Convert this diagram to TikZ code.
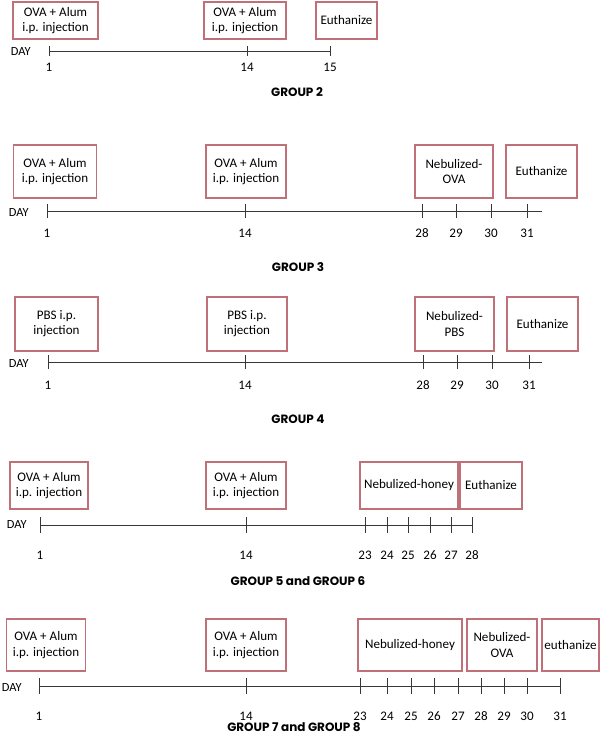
\documentclass[tikz,border=0pt]{standalone}
\usepackage{fontspec}
\setmainfont{Carlito}
\newfontfamily\grpfont{Poppins}
\definecolor{boxred}{RGB}{192,112,120}
\definecolor{axisgray}{RGB}{55,55,55}
\tikzset{
  evbox/.style 2 args={draw=boxred, line width=0.8pt, fill=white, align=center, inner sep=1pt,
    minimum width=#1*0.75pt, minimum height=#2*0.75pt,
    font=\fontsize{9.8}{11.4}\selectfont},
  axisline/.style={draw=axisgray, line width=0.75pt},
  daynum/.style={inner sep=0.75pt, font=\fontsize{9.8}{11.4}\selectfont},
  daylbl/.style={anchor=east, inner sep=0.75pt, font=\fontsize{9.3}{11}\selectfont},
  grplbl/.style={inner sep=0.75pt, font=\grpfont\bfseries\fontsize{9}{11}\selectfont}
}
\begin{document}
\begin{tikzpicture}[x=0.75pt,y=0.75pt,yscale=-1,xscale=1]
\useasboundingbox (0,0) rectangle (600,736);

%Group 2
\node[evbox={85}{37}] (g2a) at (55.5,20.5) {OVA + Alum\\i.p. injection};
\node[evbox={82}{37}] (g2b) at (245,20.5) {OVA + Alum\\i.p. injection};
\node[evbox={61}{37}] (g2c) at (346.5,20.5) {Euthanize};
\coordinate (g2s) at (49,51);
\coordinate (g2e) at (330,51);
\draw[axisline] (g2s) -- (g2e);
\foreach \x/\d in {49/1,247/14,330/15} {
  \draw[axisline] (\x,46) -- (\x,56);
  \node[daynum] (g2d\d) at (\x,67) {\d};
}
\node[daylbl] (g2day) at (32,52) {DAY};
\node[grplbl] (g2lbl) at (297,92) {GROUP 2};

%Group 3
\node[evbox={83}{53}] (g3a) at (55,171.5) {OVA + Alum\\i.p. injection};
\node[evbox={80}{53}] (g3b) at (246,171.5) {OVA + Alum\\i.p. injection};
\node[evbox={78}{53}] (g3c) at (454,171.5) {Nebulized-\\OVA};
\node[evbox={71}{53}] (g3d) at (541.5,171.5) {Euthanize};
\coordinate (g3s) at (47,211);
\coordinate (g3e) at (542,211);
\draw[axisline] (g3s) -- (g3e);
\foreach \x/\d in {47/1,245/14,422/28,456/29,491/30,527/31} {
  \draw[axisline] (\x,204) -- (\x,218);
  \node[daynum] (g3d\d) at (\x,233) {\d};
}
\node[daylbl] (g3day) at (30,213) {DAY};
\node[grplbl] (g3lbl) at (298,267) {GROUP 3};

%Group 4
\node[evbox={83}{54}] (g4a) at (56.5,324) {PBS i.p.\\injection};
\node[evbox={80}{54}] (g4b) at (247,324) {PBS i.p.\\injection};
\node[evbox={79}{54}] (g4c) at (454.5,324) {Nebulized-\\PBS};
\node[evbox={71}{54}] (g4d) at (542.5,324) {Euthanize};
\coordinate (g4s) at (48,362);
\coordinate (g4e) at (542,362);
\draw[axisline] (g4s) -- (g4e);
\foreach \x/\d in {48/1,245/14,423/28,457/29,492/30,529/31} {
  \draw[axisline] (\x,355) -- (\x,369);
  \node[daynum] (g4d\d) at (\x,385) {\d};
}
\node[daylbl] (g4day) at (30,364) {DAY};
\node[grplbl] (g4lbl) at (298,419) {GROUP 4};

%Group 5 and 6
\node[evbox={78}{47}] (g5a) at (49,485.5) {OVA + Alum\\i.p. injection};
\node[evbox={80}{47}] (g5b) at (246,485.5) {OVA + Alum\\i.p. injection};
\node[evbox={98}{47}] (g5c) at (409,485.5) {Nebulized-honey};
\node[evbox={62}{47}] (g5d) at (491,485.5) {Euthanize};
\coordinate (g5s) at (40,525);
\coordinate (g5e) at (472,525);
\draw[axisline] (g5s) -- (g5e);
\foreach \x/\d in {40/1,246/14,365/23,387/24,408/25,430/26,451/27,472/28} {
  \draw[axisline] (\x,517) -- (\x,533);
  \node[daynum] (g5d\d) at (\x,555) {\d};
}
\node[daylbl] (g5day) at (28,525) {DAY};
\node[grplbl] (g5lbl) at (298,581) {GROUP 5 and GROUP 6};

%Group 7 and 8
\node[evbox={79}{52}] (g7a) at (46,645) {OVA + Alum\\i.p. injection};
\node[evbox={80}{52}] (g7b) at (246,645) {OVA + Alum\\i.p. injection};
\node[evbox={104}{52}] (g7c) at (410,645) {Nebulized-honey};
\node[evbox={70}{52}] (g7d) at (502,645) {Nebulized-\\OVA};
\node[evbox={57}{52}] (g7e) at (570.5,645) {euthanize};
\coordinate (g7s) at (39,686);
\coordinate (g7e) at (560,686);
\draw[axisline] (g7s) -- (g7e);
\foreach \x/\d in {39/1,246/14,360/23,387/24,411/25,434/26,458/27,481/28,504/29,527/30,560/31} {
  \draw[axisline] (\x,678) -- (\x,694);
  \node[daynum] (g7d\d) at (\x,716) {\d};
}
\node[daylbl] (g7day) at (23,688) {DAY};
\node[grplbl] (g7lbl) at (294,727) {GROUP 7 and GROUP 8};

\end{tikzpicture}
\end{document}
